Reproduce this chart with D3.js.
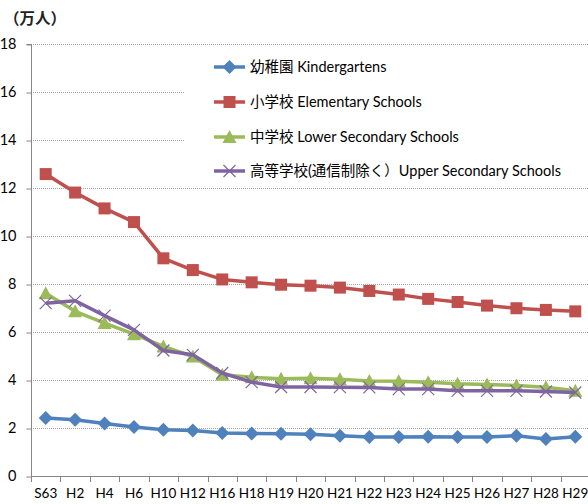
<!DOCTYPE html>
<html><head><meta charset="utf-8">
<script src="https://cdn.jsdelivr.net/npm/d3@7"></script>
<style>body{margin:0;background:#fff}svg{display:block}</style>
</head><body>
<script>
const categories = ["S63","H2","H4","H6","H10","H12","H16","H18","H19","H20","H21","H22","H23","H24","H25","H26","H27","H28","H29"];
const kindergartens = [2.42,2.34,2.19,2.04,1.93,1.90,1.79,1.77,1.76,1.74,1.68,1.62,1.62,1.64,1.63,1.63,1.68,1.54,1.64];
const elementary = [12.58,11.81,11.15,10.58,9.07,8.58,8.19,8.07,7.97,7.93,7.85,7.71,7.56,7.38,7.25,7.10,6.99,6.92,6.86];
const lowerSecondary = [7.61,6.86,6.37,5.91,5.40,4.98,4.22,4.11,4.05,4.07,4.03,3.96,3.95,3.91,3.84,3.81,3.77,3.70,3.55];
const upperSecondary = [7.20,7.30,6.68,6.09,5.23,5.05,4.29,3.91,3.71,3.71,3.70,3.69,3.62,3.62,3.55,3.55,3.55,3.52,3.48];
const yTicks = [0,2,4,6,8,10,12,14,16,18];
const seriesNames = ["幼稚園 Kindergartens","小学校 Elementary Schools","中学校 Lower Secondary Schools","高等学校(通信制除く）Upper Secondary Schools"];

const W=588,H=504;
const svg=d3.select("body").append("svg").attr("width",W).attr("height",H);
const x=d3.scaleBand().domain(categories).range([31,590]);
const y=d3.scaleLinear().domain([0,18]).range([476,44]);
const font="Lato, 'Noto Sans CJK JP', sans-serif";

// gridlines
svg.append("g").selectAll("line").data(yTicks.filter(d=>d>0)).join("line")
  .attr("x1",31).attr("x2",588).attr("y1",d=>y(d)+0.5).attr("y2",d=>y(d)+0.5)
  .attr("stroke","#a6a6a6").attr("stroke-width",1).attr("stroke-dasharray","1,1");

// axes
const ya=svg.append("g").attr("transform","translate(31.5,0)")
  .call(d3.axisLeft(y).tickValues(yTicks).tickSize(5).tickPadding(10));
ya.select(".domain").attr("stroke","#868686").attr("d","M-5,"+(y(18)+0.5)+"H0V"+y(0));
ya.selectAll(".tick line").attr("stroke","#868686").attr("transform","translate(0,0.5)");
ya.selectAll("text").attr("font-family",font).attr("font-size",14.5).attr("fill","#000");

const xa=svg.append("g").attr("transform","translate(0,476.5)")
  .call(d3.axisBottom(x).tickSize(0).tickPadding(12));
xa.select(".domain").attr("stroke","#868686").attr("d","M31,0H588");
xa.selectAll("text").attr("font-family",font).attr("font-size",13.5).attr("fill","#000");
svg.append("g").selectAll("line").data(categories).join("line")
  .attr("x1",d=>Math.round(x(d))+0.5).attr("x2",d=>Math.round(x(d))+0.5)
  .attr("y1",476).attr("y2",482).attr("stroke","#868686");

// unit label
svg.append("text").attr("x",4).attr("y",24).attr("font-family","'Noto Sans CJK JP',sans-serif")
  .attr("font-size",15.5).attr("font-weight","bold").attr("fill","#222").text("（万人）");

// legend background
svg.append("rect").attr("x",184).attr("y",50).attr("width",404).attr("height",134).attr("fill","#fff");

const series=[
 {name:seriesNames[0],vals:kindergartens,color:"#4F81BD",marker:"diamond"},
 {name:seriesNames[1],vals:elementary,color:"#C0504D",marker:"square"},
 {name:seriesNames[2],vals:lowerSecondary,color:"#9BBB59",marker:"triangle"},
 {name:seriesNames[3],vals:upperSecondary,color:"#8064A2",marker:"x"}
];
const cx=d=>x(d)+x.bandwidth()/2;
function drawMarker(g,type,color,px,py){
  if(type==="diamond"){
    g.append("path").attr("d",`M${px},${py-7}L${px+7},${py}L${px},${py+7}L${px-7},${py}Z`).attr("fill",color);
  } else if(type==="square"){
    g.append("rect").attr("x",px-6).attr("y",py-6).attr("width",12).attr("height",12).attr("fill",color);
  } else if(type==="triangle"){
    g.append("path").attr("d",`M${px},${py-7}L${px+7},${py+6}L${px-7},${py+6}Z`).attr("fill",color);
  } else {
    g.append("path").attr("d",`M${px-6},${py-6}L${px+6},${py+6}M${px-6},${py+6}L${px+6},${py-6}`)
      .attr("stroke",color).attr("stroke-width",1.2).attr("fill","none");
  }
}
const line=d3.line().x((v,i)=>cx(categories[i])).y(v=>y(v));
series.forEach(s=>{
  const g=svg.append("g");
  g.append("path").attr("d",line(s.vals)).attr("fill","none").attr("stroke",s.color)
    .attr("stroke-width",3.5).attr("stroke-linejoin","round");
  s.vals.forEach((v,i)=>drawMarker(g,s.marker,s.color,cx(categories[i]),y(v)));
});

// legend
const ly=[67,102,137,171];
series.forEach((s,i)=>{
  const g=svg.append("g");
  g.append("line").attr("x1",214).attr("x2",245).attr("y1",ly[i]).attr("y2",ly[i])
    .attr("stroke",s.color).attr("stroke-width",3.5);
  drawMarker(g,s.marker,s.color,229.5,ly[i]);
  g.append("text").attr("x",250).attr("y",ly[i]+5).attr("font-family",font)
    .attr("font-size",14.5).attr("fill","#000").text(s.name);
});
</script>
</body></html>
